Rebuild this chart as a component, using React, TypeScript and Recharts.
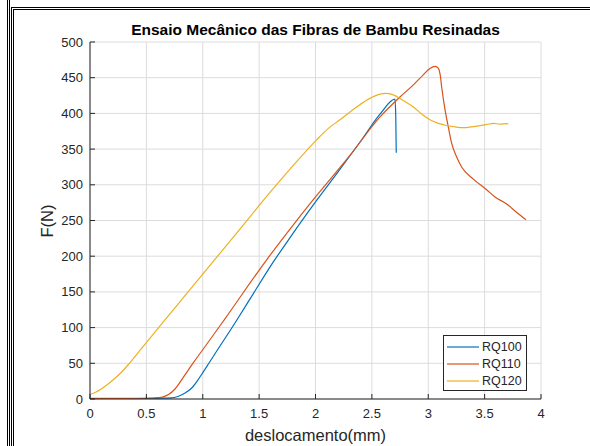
import { LineChart, Line, XAxis, YAxis, CartesianGrid, Legend } from "recharts";

const seriesNames = ["RQ100", "RQ110", "RQ120"];
const seriesColors = ["#0072BD", "#D95319", "#EDB120"];

const xTicks = [0, 0.5, 1, 1.5, 2, 2.5, 3, 3.5, 4];
const yTicks = [0, 50, 100, 150, 200, 250, 300, 350, 400, 450, 500];

const rq100X = [0, 0.3, 0.6, 0.72, 0.78, 0.84, 0.9, 0.95, 1.005, 1.06, 1.103, 1.3, 1.45, 1.626, 1.774, 2.0, 2.2, 2.4, 2.572, 2.705, 2.712, 2.716];
const rq100F = [0.5, 0.5, 1, 1.5, 3.5, 8, 15, 25, 38, 51.5, 62, 110, 148, 192, 226, 276, 318, 361, 399, 420, 395, 345];

const rq110X = [0, 0.3, 0.55, 0.6, 0.65, 0.7, 0.754, 0.83, 0.917, 1.005, 1.2, 1.567, 1.774, 2.0, 2.3, 2.572, 2.749, 2.868, 2.956, 3.015, 3.06, 3.09, 3.105, 3.119, 3.149, 3.178, 3.208, 3.252, 3.296, 3.4, 3.518, 3.592, 3.696, 3.78, 3.867];
const rq110F = [1, 1, 1.4, 1.8, 3, 6.5, 14, 31, 51, 70, 113, 195, 238, 283, 340, 395, 423, 440, 454, 463, 466, 463, 455, 437, 405, 381, 358, 339, 325, 308, 293, 283, 273, 262, 251];

const rq120X = [0, 0.05, 0.1, 0.177, 0.27, 0.355, 0.443, 0.5, 0.75, 1.0, 1.33, 1.6, 1.774, 2.01, 2.114, 2.217, 2.365, 2.47, 2.572, 2.62, 2.69, 2.78, 2.868, 2.95, 3.015, 3.09, 3.163, 3.24, 3.311, 3.38, 3.459, 3.52, 3.577, 3.64, 3.71];
const rq120F = [6.6, 9.5, 14, 23, 36, 51, 68, 79, 127, 175, 238, 290, 322, 363, 379, 391, 409, 420, 427, 428, 426, 418, 409, 398, 391, 386, 383, 381, 380, 381, 383, 384.5, 386, 385, 385.6];

const zip = (xs: number[], fs: number[]) => xs.map((x, i) => ({ x, f: fs[i] }));
const series = [zip(rq100X, rq100F), zip(rq110X, rq110F), zip(rq120X, rq120F)];

const font = "'Liberation Sans', Arial, Helvetica, sans-serif";
const axisColor = "#262626";
const TICK = 5;

const BottomTick = ({ x, y, payload }: any) => (
  <g>
    <line x1={x} x2={x} y1={y} y2={y - TICK} stroke={axisColor} />
    <text x={x} y={y + 19} textAnchor="middle" fontSize={13} fontFamily={font} fill={axisColor}>
      {payload.value}
    </text>
  </g>
);

const TopTick = ({ x, y }: any) => (
  <line x1={x} x2={x} y1={y} y2={y + TICK} stroke={axisColor} />
);

const LeftTick = ({ x, y, payload }: any) => (
  <g>
    <line x1={x} x2={x + TICK} y1={y} y2={y} stroke={axisColor} />
    <text x={x - 7} y={y + 4.5} textAnchor="end" fontSize={13} fontFamily={font} fill={axisColor}>
      {payload.value}
    </text>
  </g>
);

const RightTick = ({ x, y }: any) => (
  <line x1={x} x2={x - TICK} y1={y} y2={y} stroke={axisColor} />
);

const LegendBox = () => (
  <div
    style={{
      width: 84,
      height: 56,
      boxSizing: "border-box",
      border: "1px solid #262626",
      background: "#fff",
      paddingTop: 2,
      fontFamily: font,
      fontSize: 12.5,
      color: axisColor,
    }}
  >
    {seriesNames.map((name, i) => (
      <div key={name} style={{ display: "flex", alignItems: "center", height: 17.3 }}>
        <svg width={36} height={10} style={{ display: "block" }}>
          <line x1={3} x2={35} y1={5} y2={5} stroke={seriesColors[i]} strokeWidth={1.2} />
        </svg>
        <span style={{ marginLeft: 2, lineHeight: "14px" }}>{name}</span>
      </div>
    ))}
  </div>
);

export default function App() {
  return (
    <div style={{ position: "absolute", left: 0, top: 0, width: 590, height: 446, background: "#fff" }}>
      <svg
        width={590}
        height={446}
        style={{ position: "absolute", left: 0, top: 0, zIndex: 10, pointerEvents: "none" }}
      >
        <g stroke="#000" strokeWidth={1} fill="none" shapeRendering="crispEdges">
          <line x1={7.5} y1={0} x2={7.5} y2={446} />
          <line x1={9.5} y1={0} x2={9.5} y2={446} />
          <polyline points="11.5,446 11.5,7.5 590,7.5" />
          <polyline points="13.5,446 13.5,9.5 590,9.5" />
        </g>
      </svg>

      <div style={{ position: "absolute", left: 0, top: 0 }}>
        <LineChart width={590} height={446} margin={{ top: 42, right: 49, bottom: 0, left: 0 }}>
          <CartesianGrid xAxisId="b" yAxisId="l" stroke="#dcdcdc" strokeWidth={1} />
          <XAxis
            xAxisId="b"
            type="number"
            dataKey="x"
            domain={[0, 4]}
            ticks={xTicks}
            height={47}
            tickSize={0}
            tickMargin={0}
            tick={<BottomTick />}
            stroke={axisColor}
            allowDataOverflow
          />
          <XAxis
            xAxisId="t"
            orientation="top"
            type="number"
            dataKey="x"
            domain={[0, 4]}
            ticks={xTicks}
            height={0}
            tickSize={0}
            tickMargin={0}
            tick={<TopTick />}
            stroke={axisColor}
            allowDataOverflow
          />
          <YAxis
            yAxisId="l"
            type="number"
            domain={[0, 500]}
            ticks={yTicks}
            width={90}
            tickSize={0}
            tickMargin={0}
            tick={<LeftTick />}
            stroke={axisColor}
            allowDataOverflow
          />
          <YAxis
            yAxisId="r"
            orientation="right"
            type="number"
            domain={[0, 500]}
            ticks={yTicks}
            width={0}
            tickSize={0}
            tickMargin={0}
            tick={<RightTick />}
            stroke={axisColor}
            allowDataOverflow
          />
          {series.map((d, i) => (
            <Line
              key={seriesNames[i]}
              xAxisId="b"
              yAxisId="l"
              data={d}
              dataKey="f"
              name={seriesNames[i]}
              type="monotone"
              stroke={seriesColors[i]}
              strokeWidth={1.2}
              dot={false}
              activeDot={false}
              isAnimationActive={false}
            />
          ))}
          <Legend
            layout="vertical"
            align="center"
            verticalAlign="middle"
            content={<LegendBox />}
            wrapperStyle={{ left: 443, top: 335, width: 84, height: 56 }}
          />
        </LineChart>
      </div>

      <div
        style={{
          position: "absolute",
          left: 90,
          width: 451,
          top: 22,
          textAlign: "center",
          fontFamily: font,
          fontWeight: "bold",
          fontSize: 15.5,
          lineHeight: "15px",
          color: "#000",
        }}
      >
        Ensaio Mecânico das Fibras de Bambu Resinadas
      </div>
      <div
        style={{
          position: "absolute",
          left: 90,
          width: 451,
          top: 427,
          textAlign: "center",
          fontFamily: font,
          fontSize: 16.5,
          lineHeight: "16px",
          color: axisColor,
        }}
      >
        deslocamento(mm)
      </div>
      <div
        style={{
          position: "absolute",
          left: 47,
          top: 220.5,
          transform: "translate(-50%, -50%) rotate(-90deg)",
          fontFamily: font,
          fontSize: 16.5,
          lineHeight: "16px",
          color: axisColor,
          whiteSpace: "nowrap",
        }}
      >
        F(N)
      </div>
    </div>
  );
}
